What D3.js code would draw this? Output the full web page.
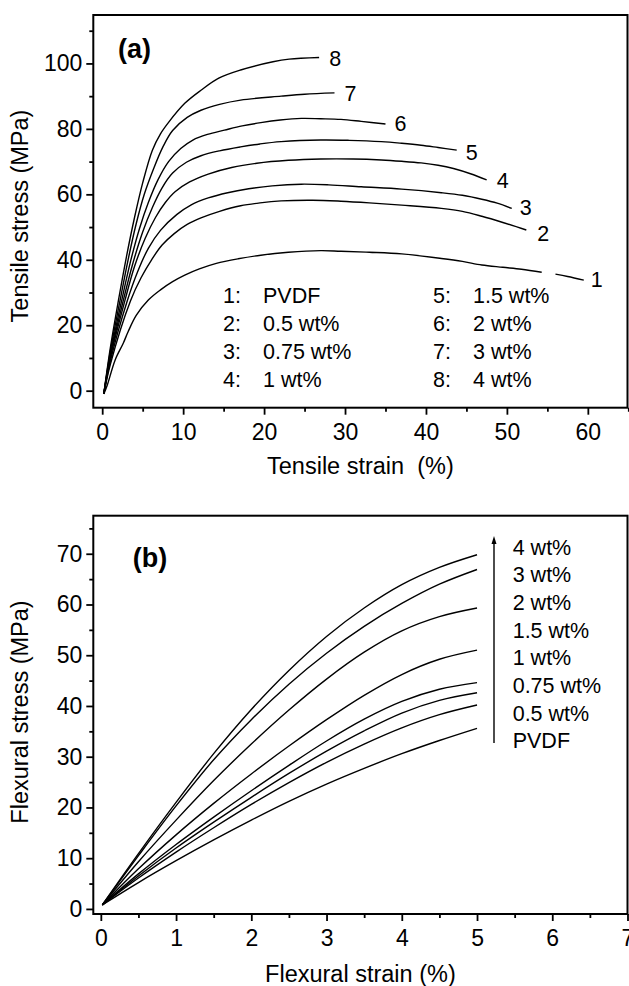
<html>
<head>
<script src="https://d3js.org/d3.v7.min.js"></script>
<style>
  body { margin: 0; background: #fff; }
  text { font-family: "Liberation Sans", Arial, Helvetica, sans-serif; fill: #000; }
</style>
</head>
<body>
<svg id="fig" width="629" height="986"></svg>
<script>
// ---- panel (a): tensile stress-strain curves, strain %, stress MPa ----
var tensile1 = [[0.2,-1],[0.6,1.5],[1.6,9.4],[2.6,14.5],[3.2,18],[4.2,23],[5.7,27.7],[7.2,30.8],[8.7,33.3],[10.2,35.3],[12,37.2],[14.1,38.9],[16.8,40.3],[19.6,41.4],[23,42.3],[27,42.8],[29.5,42.6],[33,42.3],[37,41.8],[41.9,40.4],[44.5,39.5],[46.9,38.4],[49.5,37.7],[51.8,37.1],[54.3,36.2]]
var tensile1Tail = [[56,35.6],[57.5,34.9],[59.5,33.8]]
var tensile2 = [[0.2,-1],[1,8],[3.5,27.5],[4.8,34.5],[6.1,40],[7.4,44.5],[8.9,48],[10.5,50.8],[12.2,52.8],[14.5,54.8],[17.1,56.5],[19.5,57.4],[22.1,58],[26,58.2],[29.5,57.9],[33,57.4],[37,56.7],[41.9,55.7],[44.5,54.8],[46.9,53.3],[49.5,51.4],[52.4,49.1]]
var tensile3 = [[0.2,-1],[1,9],[3.1,27.5],[4.4,36.5],[5.7,43.5],[7.2,49],[9.2,53.8],[11,56.8],[13.1,58.9],[15.5,60.5],[18.1,61.7],[21,62.6],[24.6,63.1],[28,62.9],[32,62.3],[37,61.6],[41.9,60.5],[44.5,59.7],[46.9,58.5],[48.8,57.3],[50.6,55.7]]
var tensile4 = [[0.2,-1],[1,10],[2.8,27.5],[4,38],[5.3,46.5],[6.6,53],[7.8,57.5],[9,60.8],[10.8,63.8],[13.1,66.2],[16,68.2],[19.1,69.5],[23,70.4],[27,70.8],[31,70.8],[34.5,70.5],[37,70.1],[39.4,69.6],[41.5,68.9],[43.4,67.9],[45.5,66.3],[47.5,64.4]]
var tensile5 = [[0.2,-1],[1,10.5],[2.6,27.5],[3.8,39],[5,48.5],[6.2,56],[7.4,62],[8.7,66.5],[10.4,69.8],[12.2,71.8],[14.5,73.3],[17.1,74.5],[19.5,75.4],[22.1,76.1],[27,76.6],[30.5,76.5],[34.5,76.1],[37,75.6],[39.4,75],[41.5,74.3],[43.8,73.5]]
var tensile6 = [[0.2,-1],[1,11],[2.4,27.5],[3.5,39.5],[4.6,49.5],[5.7,57.5],[6.9,64.5],[8.2,70],[9.7,74],[11.2,76.6],[13,78.3],[15.1,79.6],[17.3,80.9],[19.6,81.9],[22,82.7],[24.6,83.2],[27,83.1],[29.5,82.9],[32,82.3],[35,81.5]]
var tensile7 = [[0.2,-1],[1,12],[2.2,27.5],[3.2,40],[4.2,51],[5.2,60],[6.3,67.5],[7.5,74.5],[8.7,79.5],[10.5,83.5],[12.2,85.7],[14.5,87.5],[17.1,88.8],[22.1,90],[25,90.6],[28.7,91]]
var tensile8 = [[0.2,-1],[1,13],[2,27.5],[3,41],[4,53],[5,63.5],[6.2,73.5],[7.2,78.5],[8.2,82],[10.2,87.8],[12.2,91.8],[14.4,95.5],[17.1,98],[21.1,100.5],[23.1,101.3],[26.8,101.8]]
var tensileIds = ["1", "2", "3", "4", "5", "6", "7", "8"]
var tensileNames = ["PVDF", "0.5 wt%", "0.75 wt%", "1 wt%", "1.5 wt%", "2 wt%", "3 wt%", "4 wt%"]
var tensileXTicks = [0, 10, 20, 30, 40, 50, 60]
var tensileXMinor = [5, 15, 25, 35, 45, 55, 65]
var tensileYTicks = [0, 20, 40, 60, 80, 100]
var tensileYMinor = [10, 30, 50, 70, 90, 110]

// ---- panel (b): flexural stress-strain curves ----
var flexStrain = [0.02, 0.5, 1, 1.5, 2, 2.5, 3, 3.5, 4, 4.5, 5]
var flexPVDF = [0.8, 5.2, 9.5, 13.6, 17.5, 21.2, 24.6, 27.7, 30.6, 33.2, 35.6]
var flex05 = [0.8, 6.1, 11.2, 16, 20.6, 24.9, 28.9, 32.5, 35.7, 38.3, 40.2]
var flex075 = [0.8, 6.5, 12, 17.1, 22, 26.7, 31.1, 35.1, 38.6, 41.1, 42.6]
var flex1 = [0.8, 6.9, 12.7, 18.1, 23.3, 28.3, 33.1, 37.4, 40.9, 43.3, 44.6]
var flex15 = [0.8, 7.9, 14.6, 20.8, 26.6, 32.1, 37.3, 42.1, 46.2, 49.2, 51]
var flex2 = [0.8, 9.3, 17.5, 25.3, 32.5, 39.2, 45.3, 50.6, 54.8, 57.6, 59.3]
var flex3 = [0.8, 10.5, 20.3, 29.4, 37.3, 44.3, 50.4, 55.7, 60.2, 64, 66.9]
var flex4 = [0.8, 10.9, 21, 30.6, 39.3, 47, 53.7, 59.3, 63.9, 67.3, 69.8]
var flexNames = ["4 wt%", "3 wt%", "2 wt%", "1.5 wt%", "1 wt%", "0.75 wt%", "0.5 wt%", "PVDF"]
var flexXTicks = [0, 1, 2, 3, 4, 5, 6, 7]
var flexXMinor = [0.5, 1.5, 2.5, 3.5, 4.5, 5.5, 6.5]
var flexYTicks = [0, 10, 20, 30, 40, 50, 60, 70]
var flexYMinor = [5, 15, 25, 35, 45, 55, 65, 75]

var svg = d3.select('#fig')

function panel (opt) {
  var x = d3.scaleLinear().domain(opt.xDomain).range([93.3, 627.5])
  var y = d3.scaleLinear().domain(opt.yDomain).range(opt.yRange)
  var g = svg.append('g')
  var bottom = opt.yRange[0]

  // minor ticks first, then major
  g.append('g').attr('transform', 'translate(0,' + bottom + ')')
    .call(d3.axisBottom(x).tickValues(opt.xMinor).tickSize(4).tickSizeOuter(0).tickFormat(''))
  g.append('g').attr('transform', 'translate(0,' + bottom + ')')
    .call(d3.axisBottom(x).tickValues(opt.xTicks).tickSize(7).tickSizeOuter(0).tickPadding(9))
  g.append('g').attr('transform', 'translate(93.3,0)')
    .call(d3.axisLeft(y).tickValues(opt.yMinor).tickSize(4).tickSizeOuter(0).tickFormat(''))
  g.append('g').attr('transform', 'translate(93.3,0)')
    .call(d3.axisLeft(y).tickValues(opt.yTicks).tickSize(7).tickSizeOuter(0).tickPadding(4))

  g.selectAll('.domain').remove()
  g.selectAll('.tick line').attr('stroke', '#000').attr('stroke-width', 1.8)
  g.selectAll('.tick text').attr('font-size', 23).attr('font-family', '"Liberation Sans", Arial, sans-serif')

  g.append('rect')
    .attr('x', 93.3).attr('y', opt.yRange[1])
    .attr('width', 627.5 - 93.3).attr('height', bottom - opt.yRange[1])
    .attr('fill', 'none').attr('stroke', '#000').attr('stroke-width', 2)

  g.append('text')
    .attr('x', (93.3 + 627.5) / 2).attr('y', opt.xTitleY)
    .attr('text-anchor', 'middle').attr('font-size', 23.5)
    .style('white-space', 'pre')
    .text(opt.xTitle)
  g.append('text')
    .attr('transform', 'translate(28,' + opt.yTitleMid + ') rotate(-90)')
    .attr('text-anchor', 'middle').attr('font-size', 23.5)
    .text(opt.yTitle)

  g.append('text')
    .attr('x', opt.tagX).attr('y', opt.tagY)
    .attr('font-size', 27).attr('font-weight', 'bold')
    .text(opt.tag)

  return { g: g, x: x, y: y }
}

// ---------- (a) ----------
var a = panel({
  xDomain: [-1.1, 64.9], yDomain: [-5.2, 114.8], yRange: [407.7, 15],
  xTicks: tensileXTicks, xMinor: tensileXMinor, yTicks: tensileYTicks, yMinor: tensileYMinor,
  xTitle: 'Tensile strain  (%)', xTitleY: 473.5,
  yTitle: 'Tensile stress (MPa)', yTitleMid: 216,
  tag: '(a)', tagX: 118, tagY: 58.3
})

var lineA = d3.line()
  .x(function (d) { return a.x(d[0]) })
  .y(function (d) { return a.y(d[1]) })
  .curve(d3.curveCatmullRom.alpha(0.5))

var tensileCurves = [tensile1, tensile2, tensile3, tensile4, tensile5, tensile6, tensile7, tensile8]
a.g.selectAll('.tcurve')
  .data(tensileCurves.concat([tensile1Tail]))
  .enter().append('path')
  .attr('class', 'tcurve')
  .attr('d', lineA)
  .attr('fill', 'none').attr('stroke', '#000').attr('stroke-width', 1.4)

// number labels at curve ends
var endDx = [13, 17, 14, 16, 15, 15, 16, 16]
var endDy = [-1, 3, -1, 1, 2, 0, 1, 1]
a.g.selectAll('.endlab')
  .data(tensileIds)
  .enter().append('text')
  .attr('class', 'endlab')
  .attr('font-size', 21.5).attr('text-anchor', 'middle')
  .attr('x', function (d, i) {
    var c = i === 0 ? tensile1Tail : tensileCurves[i]
    return a.x(c[c.length - 1][0]) + endDx[i]
  })
  .attr('y', function (d, i) {
    var c = i === 0 ? tensile1Tail : tensileCurves[i]
    return a.y(c[c.length - 1][1]) + endDy[i] + 7.5
  })
  .text(function (d) { return d })

// legend
var legA = a.g.selectAll('.lega')
  .data(tensileNames)
  .enter().append('g')
  .attr('class', 'lega')
  .attr('transform', function (d, i) {
    var col = Math.floor(i / 4), row = i % 4
    return 'translate(' + (col ? 433 : 223) + ',' + (302.5 + row * 28.3) + ')'
  })
legA.append('text').attr('font-size', 21.5)
  .text(function (d, i) { return tensileIds[i] + ':' })
legA.append('text').attr('font-size', 21.5).attr('x', 40)
  .text(function (d) { return d })

// ---------- (b) ----------
var b = panel({
  xDomain: [-0.1, 7], yDomain: [-1, 77.5], yRange: [914, 515.7],
  xTicks: flexXTicks, xMinor: flexXMinor, yTicks: flexYTicks, yMinor: flexYMinor,
  xTitle: 'Flexural strain (%)', xTitleY: 982,
  yTitle: 'Flexural stress (MPa)', yTitleMid: 712,
  tag: '(b)', tagX: 132.7, tagY: 567
})

var flexCurves = [flexPVDF, flex05, flex075, flex1, flex15, flex2, flex3, flex4]
var lineB = d3.line()
  .x(function (d, i) { return b.x(flexStrain[i]) })
  .y(function (d) { return b.y(d) })
  .curve(d3.curveCatmullRom.alpha(0.5))

b.g.selectAll('.fcurve')
  .data(flexCurves)
  .enter().append('path')
  .attr('class', 'fcurve')
  .attr('d', lineB)
  .attr('fill', 'none').attr('stroke', '#000').attr('stroke-width', 1.4)

// arrow + stacked labels
b.g.append('line')
  .attr('x1', 494).attr('x2', 494).attr('y1', 540).attr('y2', 743)
  .attr('stroke', '#000').attr('stroke-width', 1.4)
b.g.append('path')
  .attr('d', 'M494,536 L491.5,544 L496.5,544 Z')
  .attr('fill', '#000')

b.g.selectAll('.legb')
  .data(flexNames)
  .enter().append('text')
  .attr('class', 'legb')
  .attr('font-size', 21.5)
  .attr('x', 512.7)
  .attr('y', function (d, i) { return 554.5 + i * 27.7 })
  .text(function (d) { return d })
</script>
</body>
</html>
